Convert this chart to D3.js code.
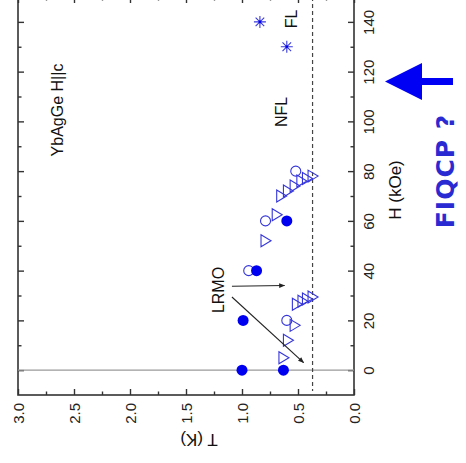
<!DOCTYPE html>
<html>
<head>
<meta charset="utf-8">
<script src="https://cdn.jsdelivr.net/npm/d3@7"></script>
<style>
  html, body { margin: 0; padding: 0; background: #fff; }
  svg { display: block; }
  text { font-family: "Liberation Sans", Arial, sans-serif; }
</style>
</head>
<body>
<svg id="chart" width="466" height="463"></svg>
<script>
// Temperature axis (K) and field axis (kOe)
const tMajor = [3.0, 2.5, 2.0, 1.5, 1.0, 0.5, 0.0];
const tMinor = [2.75, 2.25, 1.75, 1.25, 0.75, 0.25];
const tLabels = ["3.0", "2.5", "2.0", "1.5", "1.0", "0.5", "0.0"];
const hMajor = [0, 20, 40, 60, 80, 100, 120, 140];
const hMinor = [10, 30, 50, 70, 90, 110, 130];
const hLabels = ["0", "20", "40", "60", "80", "100", "120", "140"];

// Filled circles
const filledT = [1.00, 0.63, 0.99, 0.87, 0.60];
const filledH = [0, 0, 20, 40, 60];
// Open circles
const openT = [0.60, 0.94, 0.79, 0.52];
const openH = [20, 40, 60, 80];
// Open triangles
const triT = [0.63, 0.59, 0.53, 0.51, 0.46, 0.42, 0.37, 0.79, 0.69, 0.65, 0.59, 0.53, 0.47, 0.42, 0.37];
const triH = [5, 12, 18, 26.5, 27.7, 28.6, 29.4, 52, 62.5, 70, 72, 74, 76, 77, 78];
// Asterisks (FL crossover)
const starT = [0.84, 0.60];
const starH = [140, 130];

// Reference lines
const tDashed = 0.37;
const hZero = 0;

// Black arrows from the LRMO label [T0, H0, T1, H1]
const arrowsBlack = [
  [1.09, 33.7, 0.62, 34.0],
  [1.09, 29.4, 0.45, 3.0]
];
// Field marked by the FIQCP arrow
const hFiqcp = 116;

const svg = d3.select("#chart");
const pLeft = 18, pRight = 354, pBottom = 395, pTop = -3;

const x = d3.scaleLinear().domain([3, 0]).range([pLeft, pRight]);
const y = d3.scaleLinear().domain([-10, 150]).range([pBottom, pTop]);

const axisColor = "#333";
const blue = "#0000f0";
const openBlue = "#3535dc";
const labelFont = "'Liberation Sans', Arial, sans-serif";

// ---- axes ----
function styleAxis(g) {
  g.select(".domain").remove();
  g.selectAll(".tick line").attr("stroke", axisColor).attr("stroke-width", 1.4);
  return g;
}

// bottom (T) with labels
const gB = styleAxis(svg.append("g").attr("transform", `translate(0,${pBottom})`)
  .call(d3.axisBottom(x).tickValues(tMajor).tickSizeInner(-6).tickSizeOuter(0)
    .tickFormat((d, i) => tLabels[i])));
gB.selectAll(".tick text")
  .attr("transform", "rotate(-90)")
  .attr("x", -8).attr("y", 0).attr("dy", "0.35em")
  .attr("text-anchor", "end")
  .attr("font-size", 15).attr("fill", "#222")
  .style("font-family", labelFont);
styleAxis(svg.append("g").attr("transform", `translate(0,${pBottom})`)
  .call(d3.axisBottom(x).tickValues(tMinor).tickSizeInner(-3.5).tickSizeOuter(0).tickFormat("")));

// top (T) ticks only
styleAxis(svg.append("g").attr("transform", `translate(0,${pTop})`)
  .call(d3.axisTop(x).tickValues(tMajor).tickSizeInner(-6).tickSizeOuter(0).tickFormat("")));
styleAxis(svg.append("g").attr("transform", `translate(0,${pTop})`)
  .call(d3.axisTop(x).tickValues(tMinor).tickSizeInner(-3.5).tickSizeOuter(0).tickFormat("")));

// right (H) with labels
const gR = styleAxis(svg.append("g").attr("transform", `translate(${pRight},0)`)
  .call(d3.axisRight(y).tickValues(hMajor).tickSizeInner(-6).tickSizeOuter(0)
    .tickFormat((d, i) => hLabels[i])));
gR.selectAll(".tick text")
  .attr("transform", "rotate(-90)")
  .attr("x", 0).attr("y", 15).attr("dy", "0.35em")
  .attr("text-anchor", "middle")
  .attr("font-size", 15).attr("fill", "#222")
  .style("font-family", labelFont);
styleAxis(svg.append("g").attr("transform", `translate(${pRight},0)`)
  .call(d3.axisRight(y).tickValues(hMinor).tickSizeInner(-3.5).tickSizeOuter(0).tickFormat("")));

// left (H) ticks only
styleAxis(svg.append("g").attr("transform", `translate(${pLeft},0)`)
  .call(d3.axisLeft(y).tickValues(hMajor).tickSizeInner(-6).tickSizeOuter(0).tickFormat("")));
styleAxis(svg.append("g").attr("transform", `translate(${pLeft},0)`)
  .call(d3.axisLeft(y).tickValues(hMinor).tickSizeInner(-3.5).tickSizeOuter(0).tickFormat("")));

// frame
svg.append("rect")
  .attr("x", pLeft).attr("y", pTop)
  .attr("width", pRight - pLeft).attr("height", pBottom - pTop)
  .attr("fill", "none").attr("stroke", axisColor).attr("stroke-width", 1.6);

// axis titles
svg.append("text")
  .attr("transform", `translate(${(pLeft + pRight) / 2 + 13},${pBottom + 45}) rotate(180)`)
  .attr("text-anchor", "middle").attr("dy", "0.35em")
  .attr("font-size", 17).attr("fill", "#111")
  .text("T (K)");
svg.append("text")
  .attr("transform", `translate(${pRight + 41},${(pTop + pBottom) / 2 - 6}) rotate(-90)`)
  .attr("text-anchor", "middle").attr("dy", "0.35em")
  .attr("font-size", 17).attr("fill", "#111")
  .text("H (kOe)");

// ---- reference lines ----
svg.append("line")
  .attr("x1", pLeft).attr("x2", pRight)
  .attr("y1", y(hZero)).attr("y2", y(hZero))
  .attr("stroke", "#9a9a9a").attr("stroke-width", 1.2);
svg.append("line")
  .attr("x1", x(tDashed)).attr("x2", x(tDashed))
  .attr("y1", pTop).attr("y2", pBottom - 4)
  .attr("stroke", "#444").attr("stroke-width", 1.2)
  .attr("stroke-dasharray", "4,3");

// ---- markers ----
const triPts = triT.map((t, i) => [t, triH[i]]);
svg.append("g").selectAll("path").data(triPts).join("path")
  .attr("transform", d => `translate(${x(d[0])},${y(d[1])})`)
  .attr("d", "M-4.5,-6 L5.5,0 L-4.5,6 Z")
  .attr("fill", "none").attr("stroke", openBlue).attr("stroke-width", 1.1);

const openPts = openT.map((t, i) => [t, openH[i]]);
svg.append("g").selectAll("circle").data(openPts).join("circle")
  .attr("cx", d => x(d[0])).attr("cy", d => y(d[1])).attr("r", 5)
  .attr("fill", "none").attr("stroke", openBlue).attr("stroke-width", 1.1);

const filledPts = filledT.map((t, i) => [t, filledH[i]]);
svg.append("g").selectAll("circle").data(filledPts).join("circle")
  .attr("cx", d => x(d[0])).attr("cy", d => y(d[1])).attr("r", 5.5)
  .attr("fill", blue);

const starPts = starT.map((t, i) => [t, starH[i]]);
const sr = 6, sd = 4.3;
svg.append("g").selectAll("path").data(starPts).join("path")
  .attr("transform", d => `translate(${x(d[0])},${y(d[1])})`)
  .attr("d", `M0,${-sr}V${sr}M${-sr},0H${sr}M${-sd},${-sd}L${sd},${sd}M${-sd},${sd}L${sd},${-sd}`)
  .attr("fill", "none").attr("stroke", "#3a3ae0").attr("stroke-width", 1.1);
svg.append("g").selectAll("circle").data(starPts).join("circle")
  .attr("cx", d => x(d[0])).attr("cy", d => y(d[1])).attr("r", 1.3).attr("fill", blue);

// ---- black arrows ----
svg.append("defs").append("marker")
  .attr("id", "head").attr("viewBox", "0 0 10 10")
  .attr("refX", 9).attr("refY", 5)
  .attr("markerWidth", 7).attr("markerHeight", 6)
  .attr("markerUnits", "userSpaceOnUse")
  .attr("orient", "auto")
  .append("path").attr("d", "M0,1 L10,5 L0,9 Z").attr("fill", "#222");
svg.append("g").selectAll("line").data(arrowsBlack).join("line")
  .attr("x1", d => x(d[0])).attr("y1", d => y(d[1]))
  .attr("x2", d => x(d[2])).attr("y2", d => y(d[3]))
  .attr("stroke", "#222").attr("stroke-width", 1.1)
  .attr("marker-end", "url(#head)");

// ---- annotations ----
function vText(tx, ty, str, size, opts = {}) {
  return svg.append("text")
    .attr("transform", `translate(${tx},${ty}) rotate(-90)`)
    .attr("text-anchor", "middle").attr("dy", "0.35em")
    .attr("font-size", size).attr("fill", opts.fill || "#111")
    .attr("font-weight", opts.weight || "normal")
    .style("font-family", opts.family || labelFont)
    .style("letter-spacing", opts.spacing || "0px")
    .text(str);
}
vText(57, 110, "YbAgGe H||c", 16);
vText(281, 112, "NFL", 16);
vText(291, 19, "FL", 16);
vText(218, 290, "LRMO", 16);

// FIQCP arrow pointing at the field axis
const ay = y(hFiqcp);
const ax0 = pRight + 31, ax1 = pRight + 68, ax2 = pRight + 99;
svg.append("path")
  .attr("d", `M${ax0},${ay} L${ax1},${ay - 18.5} L${ax1},${ay - 3.5} L${ax2},${ay - 3.5} L${ax2},${ay + 3.5} L${ax1},${ay + 3.5} L${ax1},${ay + 18.5} Z`)
  .attr("fill", "#0000f5");
vText(445, 171, "FIQCP ?", 25, { fill: "#2a2ad2", weight: "bold", family: "'DejaVu Sans', Verdana, sans-serif", spacing: "1px" });
</script>
</body>
</html>
